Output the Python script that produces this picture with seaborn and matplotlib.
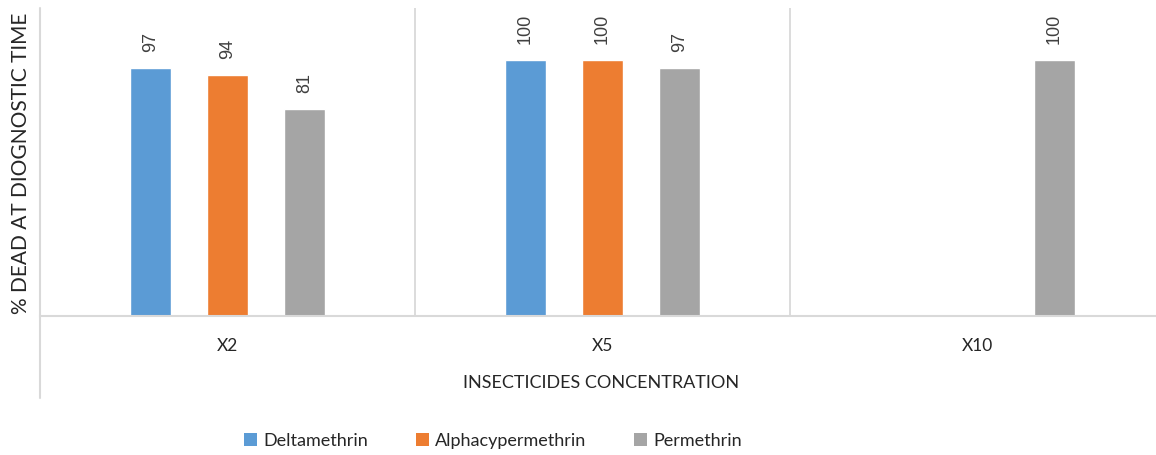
import matplotlib
matplotlib.use("Agg")
import matplotlib.pyplot as plt
import seaborn as sns
import pandas as pd
from matplotlib.lines import Line2D
from matplotlib.patches import Patch

categories = ["X2", "X5", "X10"]
insecticides = ["Deltamethrin", "Alphacypermethrin", "Permethrin"]
deltamethrin = [97, 100, None]
alphacypermethrin = [94, 100, None]
permethrin = [81, 97, 100]
colors = ["#5B9BD5", "#ED7D31", "#A5A5A5"]

rows = []
for name, vals in zip(insecticides, [deltamethrin, alphacypermethrin, permethrin]):
    for c, v in zip(categories, vals):
        if v is not None:
            rows.append({"conc": c, "insecticide": name, "value": v})
df = pd.DataFrame(rows)

sns.set_style("white")
plt.rcParams["font.family"] = ["Lato", "DejaVu Sans"]

W, H = 1156, 455
fig = plt.figure(figsize=(W / 100, H / 100), dpi=100)
left, right, bottom, top = 40, 1165, 316, 8
ax = fig.add_axes([left / W, (H - bottom) / H, (right - left) / W, (bottom - top) / H])

sns.barplot(data=df, x="conc", y="value", hue="insecticide", order=categories,
            hue_order=insecticides, palette=colors, width=0.616, gap=0.47,
            ax=ax, legend=False, saturation=1)

ax.set_ylim(0, 120.3)
ax.set_xlim(-0.5, 2.5)

for cont in ax.containers:
    for bar in cont:
        h = bar.get_height()
        if h and h == h:
            ax.annotate(f"{int(round(h))}", (bar.get_x() + bar.get_width() / 2, h),
                        xytext=(0, 11.5), textcoords="offset points",
                        ha="center", va="bottom", rotation=90,
                        fontsize=13, family=["Liberation Sans", "DejaVu Sans"], color="#404040")

grid_c = "#D9D9D9"
ax.set_xticks([0.5, 1.5], minor=True)
ax.grid(axis="x", which="minor", color=grid_c, lw=1.3)
ax.grid(axis="x", which="major", visible=False)
ax.set_yticks([])
ax.tick_params(axis="x", which="both", length=0, pad=16, labelsize=12.5, labelcolor="#262626")

for s in ["top", "right"]:
    ax.spines[s].set_visible(False)
ax.spines["bottom"].set_color(grid_c)
ax.spines["bottom"].set_linewidth(1.5)
ax.spines["left"].set_visible(False)
ext = (398 - bottom) / (bottom - top)
ax.add_line(Line2D([0, 0], [-ext, 1.0], transform=ax.transAxes, color=grid_c, lw=1.5, clip_on=False))

ax.set_xlabel("INSECTICIDES CONCENTRATION", fontsize=13, color="#262626")
ax.set_ylabel("% DEAD AT DIOGNOSTIC TIME", fontsize=15, color="#262626")
ax.xaxis.set_label_coords((601 - left) / (right - left), -(375 - bottom) / (bottom - top))
ax.yaxis.set_label_coords(-(40 - 31) / (right - left), (bottom - 163) / (bottom - top))

handles = [Patch(facecolor=c, edgecolor="none") for c in colors]
fig.legend(handles, insecticides, loc="center", bbox_to_anchor=(493 / W, 1 - 441 / H),
           ncol=3, frameon=False, fontsize=13, handlelength=0.75, handleheight=0.75,
           handletextpad=0.35, columnspacing=2.6, labelcolor="#262626")

fig.savefig("out.png", dpi=100)
